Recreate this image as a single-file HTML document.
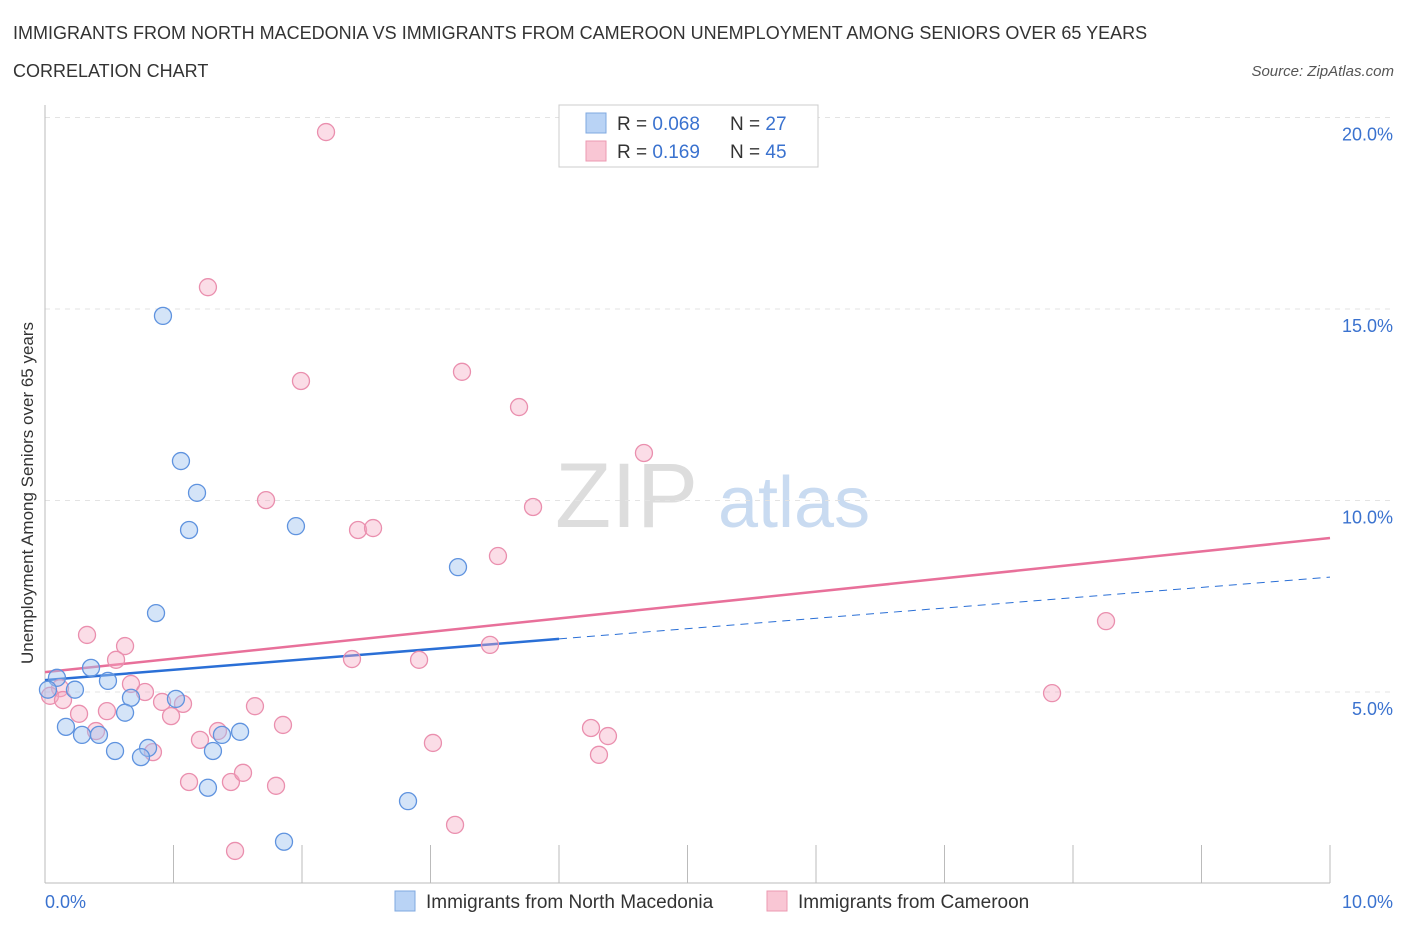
<!DOCTYPE html>
<html><head><meta charset="utf-8"><style>
body{margin:0;background:#fff;font-family:"Liberation Sans",sans-serif;}
svg text{font-family:"Liberation Sans",sans-serif;}
</style></head><body>
<svg id="chart" width="1406" height="930" xmlns="http://www.w3.org/2000/svg">
<text x="13" y="39" font-size="18" fill="#333">IMMIGRANTS FROM NORTH MACEDONIA VS IMMIGRANTS FROM CAMEROON UNEMPLOYMENT AMONG SENIORS OVER 65 YEARS</text>
<text x="13" y="77" font-size="18" fill="#333">CORRELATION CHART</text>
<text x="1394" y="76" font-size="15" fill="#555" font-style="italic" text-anchor="end">Source: ZipAtlas.com</text>
<text x="555" y="527" font-size="92" fill="#ddd" font-family="Liberation Serif, serif">ZIP</text>
<text x="718" y="527" font-size="72" fill="#c9dbf1">atlas</text>
<g id="grid"></g><g id="axes"></g><g id="lines"></g><g id="pts"></g>
<text transform="translate(33,493) rotate(-90)" font-size="17" fill="#333" text-anchor="middle">Unemployment Among Seniors over 65 years</text>
<g>
<rect x="559" y="105" width="259" height="62" fill="#fff" stroke="#ccc"/>
<rect x="586" y="113" width="20" height="20" fill="#b9d3f5" stroke="#7fa8e0"/>
<rect x="586" y="141" width="20" height="20" fill="#f9c6d4" stroke="#ec99b2"/>
<text x="617" y="130" font-size="19" fill="#333">R = <tspan fill="#3a72cf">0.068</tspan></text>
<text x="730" y="130" font-size="19" fill="#333">N = <tspan fill="#3a72cf"> 27</tspan></text>
<text x="617" y="158" font-size="19" fill="#333">R = <tspan fill="#3a72cf"> 0.169</tspan></text>
<text x="730" y="158" font-size="19" fill="#333">N = <tspan fill="#3a72cf">45</tspan></text>
</g>
<g>
<rect x="395" y="891" width="20" height="20" fill="#b9d3f5" stroke="#7fa8e0"/>
<text x="426" y="908" font-size="19" fill="#333">Immigrants from North Macedonia</text>
<rect x="767" y="891" width="20" height="20" fill="#f9c6d4" stroke="#ec99b2"/>
<text x="798" y="908" font-size="19" fill="#333">Immigrants from Cameroon</text>
</g>
</svg>
<script>
const blueX=[0.918,1.058,1.183,1.121,1.953,3.214,0.864,0.358,0.490,0.093,0.233,0.669,1.019,0.623,0.023,0.163,0.288,0.420,0.545,0.802,0.747,1.307,1.377,1.518,1.268,2.825,1.860];
const blueY=[14.82,11.03,10.20,9.23,9.33,8.26,7.06,5.63,5.29,5.37,5.06,4.85,4.82,4.46,5.06,4.09,3.88,3.88,3.46,3.54,3.30,3.46,3.88,3.96,2.50,2.15,1.09];
const pinkX=[2.187,1.268,1.992,3.245,3.689,4.661,1.720,3.798,2.436,2.553,3.525,8.257,0.327,0.623,0.553,3.463,2.389,2.911,0.669,0.778,0.911,1.074,0.117,0.039,0.140,0.265,0.482,0.981,1.634,0.397,1.852,1.346,1.206,0.840,3.019,4.249,4.381,4.311,7.837,1.121,1.447,1.541,1.798,3.191,1.479];
const pinkY=[19.62,15.57,13.12,13.36,12.44,11.24,10.01,9.83,9.23,9.28,8.55,6.85,6.49,6.20,5.84,6.23,5.86,5.84,5.21,5.00,4.74,4.69,5.10,4.90,4.79,4.43,4.50,4.37,4.63,3.98,4.14,3.98,3.75,3.43,3.67,4.06,3.85,3.36,4.97,2.65,2.65,2.89,2.55,1.53,0.85];
const yTicks=[5,10,15,20];
const yTickLabels=["5.0%","10.0%","15.0%","20.0%"];
const xTickLabels=["0.0%","10.0%"];
const blueTrend=[5.31,8.00];
const pinkTrend=[5.52,9.02];
const blueSolidEnd=4.0;
const NS="http://www.w3.org/2000/svg";
const sx=v=>45+v*128.5, sy=v=>883.5-v*38.3;
function mk(p,t,a){const e=document.createElementNS(NS,t);for(const k in a)e.setAttribute(k,a[k]);document.getElementById(p).appendChild(e);return e;}
yTicks.forEach((t,i)=>{
 const g=mk('grid','line',{x1:45,x2:1395,y1:sy(t),y2:sy(t),stroke:'#e3e3e3','stroke-dasharray':'5,5'});
 
 
 const l=mk('grid','text',{x:1393,y:sy(t)+23,'font-size':18,fill:'#3a72cf','text-anchor':'end'});
 l.textContent=yTickLabels[i];
 
 
});
const ya=mk('axes','line',{x1:45,x2:45,y1:105,y2:883,stroke:'#bbb'});


const xa=mk('axes','line',{x1:45,x2:1330,y1:883,y2:883,stroke:'#bbb'});


for(let i=0;i<=10;i++){
 const t=mk('axes','line',{x1:sx(i),x2:sx(i),y1:845,y2:883,stroke:'#bbb'});
 
 
}
[[0,'start',45],[10,'end',1393]].forEach((d,i)=>{
 const l=mk('axes','text',{x:d[2],y:908,'font-size':18,fill:'#3a72cf','text-anchor':d[1]});
 l.textContent=xTickLabels[i];
 
 
});
function dot(x,y,f,s,n){const c=mk('pts','circle',{cx:sx(x),cy:sy(y),r:8.5,fill:f,stroke:s,'stroke-width':1.3});
 
 }
pinkX.forEach((x,i)=>dot(x,pinkY[i],'rgba(245,170,195,0.4)','#ea8fae','cameroon-point'));
blueX.forEach((x,i)=>dot(x,blueY[i],'rgba(160,195,240,0.45)','#5f93df','north-macedonia-point'));
const yb=v=>blueTrend[0]+(blueTrend[1]-blueTrend[0])*v/10;
const b1=mk('lines','line',{x1:sx(0),y1:sy(yb(0)),x2:sx(blueSolidEnd),y2:sy(yb(blueSolidEnd)),stroke:'#2a6fd6','stroke-width':2.5});


const b2=mk('lines','line',{x1:sx(blueSolidEnd),y1:sy(yb(blueSolidEnd)),x2:sx(10),y2:sy(yb(10)),stroke:'#2a6fd6','stroke-width':1,'stroke-dasharray':'8,6'});


const p1=mk('lines','line',{x1:sx(0),y1:sy(pinkTrend[0]),x2:sx(10),y2:sy(pinkTrend[1]),stroke:'#e8709a','stroke-width':2.5});


</script>
</body></html>
